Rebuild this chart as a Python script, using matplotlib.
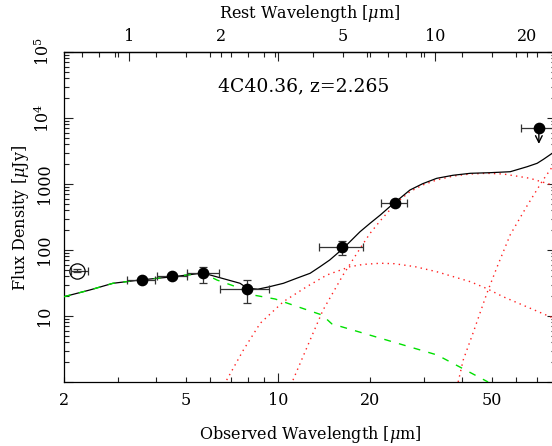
import numpy as np
import matplotlib
matplotlib.use("Agg")
import matplotlib.pyplot as plt
from matplotlib import rcParams

rcParams['font.family'] = ['DejaVu Serif']
rcParams['mathtext.fontset'] = 'dejavuserif'

z = 2.265

# photometry (observed wavelength in micron, flux in microJy)
obs_wl = [3.59, 4.52, 5.68, 7.91, 16.17, 24.1]
obs_wl_lo = [3.22, 4.02, 5.04, 6.47, 13.6, 21.7]
obs_wl_hi = [3.96, 5.04, 6.44, 9.36, 18.9, 26.4]
obs_flux = [35.3, 40.4, 45.3, 25.7, 112, 510]
obs_flux_lo = [33.5, 38.5, 32.0, 15.6, 84, 490]
obs_flux_hi = [37.2, 42.5, 56.0, 35.1, 138, 530]

# open point (K band)
k_wl, k_wl_lo, k_wl_hi = 2.20, 2.11, 2.40
k_flux, k_flux_lo, k_flux_hi = 48.6, 46.5, 50.8

# 70 micron upper limit
ul_wl, ul_wl_lo, ul_wl_hi = 71.2, 62.3, 82.0
ul_flux = 6980

# model curves
total_wl = [2.0, 2.43, 2.89, 3.54, 4.54, 5.69, 6.3, 7.52, 7.93, 8.6, 9.3, 10.42, 11.51, 12.74,
            13.73, 14.76, 16.35, 18.54, 20.0, 21.6, 23.2, 27.0, 29.7, 33.0, 37.3, 42.5, 49.2,
            57.4, 65.2, 70.3, 73.7, 78.7, 81.0]
total_fx = [19.6, 24.8, 31.3, 35.1, 39.3, 44.8, 39.3, 31.3, 26.4, 25.5, 27.5, 31.3, 37.3, 44.4,
            55.9, 70.5, 106, 189, 254, 339, 453, 811, 1010, 1218, 1355, 1452, 1483,
            1535, 1828, 2060, 2366, 2917, 3150]

stars_wl = [2.0, 2.43, 2.89, 3.54, 4.54, 5.69, 6.32, 7.52, 8.30, 9.79, 13.73, 13.93, 15.0, 33.1, 48.6]
stars_fx = [19.6, 24.8, 31.3, 35.1, 39.3, 44.8, 35.1, 26.4, 20.8, 18.1, 10.6, 10.4, 7.6, 2.57, 1.0]

hot_wl = [6.80, 7.71, 8.75, 10.42, 12.42, 14.45, 17.2, 19.0, 21.6, 24.0, 28.0, 33.0, 42.5,
          47.9, 54.4, 77.5, 81.0]
hot_fx = [1.07, 3.05, 7.75, 16.5, 27.8, 41.8, 55.9, 60.5, 63.0, 62.0, 56.0, 46.9, 33.1,
          26.3, 19.6, 9.75, 9.0]

warm_wl = [11.2, 12.73, 14.04, 16.33, 18.54, 20.0, 21.6, 23.2, 25.0, 27.0, 29.7, 33.0, 37.5,
           42.5, 48.0, 54.4, 59.9, 66.7, 78.7, 81.0]
warm_fx = [1.07, 4.3, 12.3, 42, 105, 179, 278, 404, 572, 765, 966, 1150, 1322,
           1418, 1452, 1418, 1322, 1218, 966, 930]

cold_wl = [38.8, 40.3, 43.4, 48.2, 52.0, 57.4, 65.2, 73.0, 78.7, 81.0]
cold_fx = [1.0, 2.15, 5.53, 22.3, 55.3, 170, 470, 1100, 1810, 2150]

# ticks
obs_minor = [2, 3, 4, 5, 6, 7, 8, 9, 20, 30, 40, 50, 60, 70, 80]
obs_minor_lab = ['2', '', '', '5', '', '', '', '', '20', '', '', '50', '', '', '']
rest_minor = [0.7, 0.8, 0.9, 2, 3, 4, 5, 6, 7, 8, 9, 20]
rest_minor_lab = ['', '', '', '2', '', '', '5', '', '', '', '', '20']
y_ticks = [1, 10, 100, 1000, 1e4, 1e5]
y_tick_labels = ['', '10', '100', '1000', '$10^4$', '$10^5$']

W, H = 552, 446
fig = plt.figure(figsize=(W / 100, H / 100), dpi=100)
ax = fig.add_axes([64 / W, 64 / H, 492 / W, 330 / H])
ax.set_xscale('log')
ax.set_yscale('log')
ax.set_xlim(2, 81)
ax.set_ylim(1, 1e5)

ax.plot(total_wl, total_fx, color='k', lw=0.9, zorder=3)
ax.plot(stars_wl, stars_fx, color='#00e000', lw=1.0, dashes=(5, 6), zorder=4)
for wl, fx in [(hot_wl, hot_fx), (warm_wl, warm_fx), (cold_wl, cold_fx)]:
    ax.plot(wl, fx, color='#ff2020', lw=1.0, dashes=(1, 3), zorder=2)

xe = [np.array(obs_wl) - np.array(obs_wl_lo), np.array(obs_wl_hi) - np.array(obs_wl)]
ye = [np.array(obs_flux) - np.array(obs_flux_lo), np.array(obs_flux_hi) - np.array(obs_flux)]
ax.errorbar(obs_wl, obs_flux, xerr=xe, yerr=ye, fmt='o', ms=7.4, color='k',
            ecolor='#333333', elinewidth=0.9, capsize=3, capthick=0.9, zorder=5)
ax.errorbar([k_wl], [k_flux], xerr=[[k_wl - k_wl_lo], [k_wl_hi - k_wl]],
            yerr=[[k_flux - k_flux_lo], [k_flux_hi - k_flux]], fmt='o', ms=11,
            mfc='none', mec='k', mew=0.9, ecolor='#333333', elinewidth=0.9,
            capsize=3, capthick=0.9, zorder=5)
ax.errorbar([ul_wl], [ul_flux], xerr=[[ul_wl - ul_wl_lo], [ul_wl_hi - ul_wl]], fmt='o',
            ms=7.4, color='k', ecolor='#333333', elinewidth=0.9, capsize=3,
            capthick=0.9, zorder=5)
ax.annotate('', xy=(ul_wl, ul_flux * 0.58), xytext=(ul_wl, ul_flux),
            arrowprops=dict(arrowstyle='->', lw=1.0, color='k', shrinkA=0, shrinkB=0,
                            mutation_scale=12), zorder=5)

# axes ticks
ax.set_xticks([10], ['10'])
ax.set_xticks(obs_minor, obs_minor_lab, minor=True)
ax.set_yticks(y_ticks, y_tick_labels, rotation=90, va='center')
ax.yaxis.set_minor_locator(matplotlib.ticker.LogLocator(subs=np.arange(2, 10)))
ax.yaxis.set_minor_formatter(matplotlib.ticker.NullFormatter())
ax.tick_params(which='both', direction='in', top=True, right=True, labelsize=11.5,
               width=0.8, color='#222222')
ax.tick_params(which='major', length=6.5)
ax.tick_params(which='minor', length=3.6)
ax.tick_params(axis='x', which='both', pad=7)
ax.tick_params(axis='y', which='both', pad=8)

sec = ax.secondary_xaxis('top', functions=(lambda x: x / (1 + z), lambda x: x * (1 + z)))
sec.set_xticks([1, 10], ['1', '10'])
sec.set_xticks(rest_minor, rest_minor_lab, minor=True)
sec.tick_params(which='both', direction='in', labelsize=11.5, pad=5, width=0.8, color='#222222')
sec.tick_params(which='major', length=6.5)
sec.tick_params(which='minor', length=3.6)

for sp in ax.spines.values():
    sp.set_linewidth(0.9)
sec.spines['top'].set_linewidth(0.9)

fig.text(310 / W, 1 - 18.5 / H, r'Rest Wavelength [$\mu$m]', ha='center', va='baseline', fontsize=11.5)
fig.text(310 / W, 1 - 439 / H, r'Observed Wavelength [$\mu$m]', ha='center', va='baseline', fontsize=11.5)
fig.text(21 / W, 1 - 218 / H, r'Flux Density [$\mu$Jy]', ha='center', va='center',
         rotation=90, fontsize=11.5)
fig.text(304 / W, 1 - 91.5 / H, '4C40.36, z=2.265', ha='center', va='baseline', fontsize=13.5)

fig.savefig('out.png', dpi=100)
